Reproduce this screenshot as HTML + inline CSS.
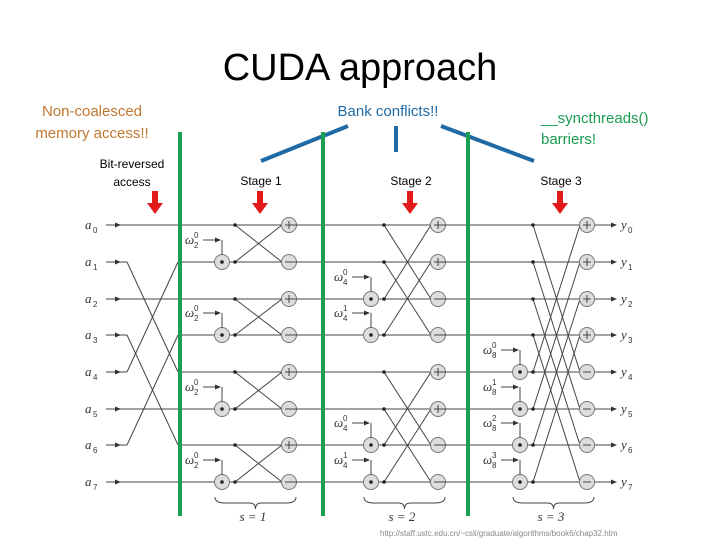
<!DOCTYPE html>
<html><head><meta charset="utf-8"><style>
body{margin:0;background:#fff;width:720px;height:540px;overflow:hidden}
svg{display:block}
text{font-family:"Liberation Sans",sans-serif}
.sm{font-family:"Liberation Serif",serif;font-style:italic;font-size:13px;fill:#333}
</style></head><body>
<svg width="720" height="540" viewBox="0 0 720 540" xmlns="http://www.w3.org/2000/svg">
<defs><marker id="ah" markerWidth="6" markerHeight="6" refX="5" refY="3" orient="auto"><path d="M0,0.5 L6,3 L0,5.5z" fill="#333"/></marker></defs>
<text x="360" y="80" font-size="38" text-anchor="middle" fill="#000">CUDA approach</text>
<text x="92" y="116" font-size="15" text-anchor="middle" fill="#c07830">Non-coalesced</text>
<text x="92" y="138" font-size="15" text-anchor="middle" fill="#c07830">memory access!!</text>
<text x="388" y="116" font-size="15" text-anchor="middle" fill="#1f6aa5">Bank conflicts!!</text>
<text x="541" y="123" font-size="15" fill="#1a9a50">__syncthreads()</text>
<text x="541" y="144" font-size="15" fill="#1a9a50">barriers!</text>
<text x="132" y="168" font-size="12" text-anchor="middle" fill="#000">Bit-reversed</text>
<text x="132" y="186" font-size="12" text-anchor="middle" fill="#000">access</text>
<text x="261" y="185" font-size="12" text-anchor="middle">Stage 1</text>
<text x="411" y="185" font-size="12" text-anchor="middle">Stage 2</text>
<text x="561" y="185" font-size="12" text-anchor="middle">Stage 3</text>
<g stroke="#1f6aa5" stroke-width="4"><line x1="261" y1="161" x2="348" y2="126"/><line x1="396" y1="126" x2="396" y2="152"/><line x1="441" y1="126" x2="534" y2="161"/></g>
<g fill="#e21a1a">
<path d="M152,191h6v12h5l-8,11l-8,-11h5z"/><path d="M257,191h6v12h5l-8,11l-8,-11h5z"/><path d="M407,191h6v12h5l-8,11l-8,-11h5z"/><path d="M557,191h6v12h5l-8,11l-8,-11h5z"/>
</g>
<g id="d" stroke="#444" stroke-width="1" fill="none"></g>
<g stroke="#1aa050" stroke-width="4"><line x1="180" y1="132" x2="180" y2="516"/><line x1="323" y1="132" x2="323" y2="516"/><line x1="468" y1="132" x2="468" y2="516"/></g>
<text x="380" y="536" font-size="8" fill="#888">http://staff.ustc.edu.cn/~csli/graduate/algorithms/book6/chap32.htm</text>
</svg>
<script>
var Y=[225,262,299,335,372,409,445,482];
var g=document.getElementById('d'),s='';
function L(a,b,c,d,m){s+='<line x1="'+a+'" y1="'+b+'" x2="'+c+'" y2="'+d+'"'+(m?' marker-end="url(#ah)"':'')+'/>';}
function dot(x,y){s+='<circle cx="'+x+'" cy="'+y+'" r="1.8" fill="#222" stroke="none"/>';}
function circ(x,y,t){s+='<circle cx="'+x+'" cy="'+y+'" r="7.5" fill="#ddd" stroke="#777"/>';
 if(t=='+'){L(x-4,y,x+4,y);L(x,y-4,x,y+4);} else if(t=='-'){L(x-4,y,x+4,y);} else dot(x,y);}
function T(x,y,t){s+='<text x="'+x+'" y="'+y+'" class="sm" stroke="none">'+t+'</text>';}
function W(x,y,n,k,cx){T(x,y-18,'ω');s+='<text x="'+(x+9)+'" y="'+(y-14)+'" font-size="8" fill="#333" stroke="none">'+n+'</text><text x="'+(x+9)+'" y="'+(y-24)+'" font-size="8" fill="#333" stroke="none">'+k+'</text>';L(x+18,y-22,cx-2,y-22,1);L(cx,y-22,cx,y-7);}
var br=[0,4,2,6,1,5,3,7];
for(var i=0;i<8;i++){T(85,Y[i]+4,'a');s+='<text x="93" y="'+(Y[i]+8)+'" font-size="8" fill="#333" stroke="none">'+i+'</text>';
 L(106,Y[i],120,Y[i],1);}
// bit reversal
for(var i=0;i<8;i++){var j=br[i];L(120,Y[i],127,Y[i]);L(127,Y[i],178,Y[j]);}
// stages
function stage(xs,xd,xc,span,wn){
 for(var i=0;i<8;i++){L(xs,Y[i],xc,Y[i]);}
 for(var b=0;b<8;b+=2*span){for(var k=0;k<span;k++){var t=b+k,u=b+k+span;
  L(xd,Y[t],xc-7,Y[u]);L(xd,Y[u],xc-7,Y[t]);dot(xd,Y[t]);dot(xd,Y[u]);
  circ(xd-13,Y[u],'.');W(xd-50,Y[u],wn,k,xd-13);circ(xc,Y[t],'+');circ(xc,Y[u],'-');}}
}
stage(182,235,289,1,2);stage(325,384,438,2,4);stage(470,533,587,4,8);
for(var i=0;i<8;i++){L(289,Y[i],323,Y[i]);L(438,Y[i],468,Y[i]);L(595,Y[i],616,Y[i],1);
 T(621,Y[i]+4,'y');s+='<text x="628" y="'+(Y[i]+8)+'" font-size="8" fill="#333" stroke="none">'+i+'</text>';}
function brace(x1,x2,y,lab){var m=(x1+x2)/2;s+='<path d="M'+x1+','+y+' q0,6 10,6 H'+(m-6)+' q6,0 6,6 q0,-6 6,-6 H'+(x2-10)+' q10,0 10,-6"/>';T(m-16,y+24,lab);}
brace(215,296,497,'s = 1');brace(364,445,497,'s = 2');brace(513,594,497,'s = 3');
g.innerHTML=s;
</script>
</body></html>
